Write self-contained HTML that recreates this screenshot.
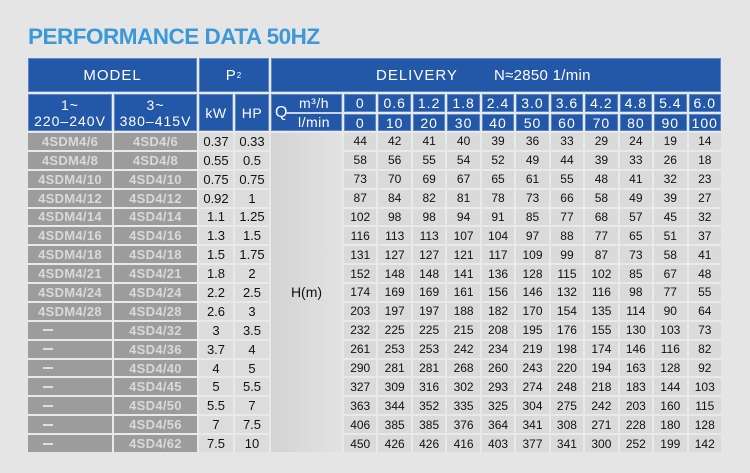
<!DOCTYPE html>
<html><head><meta charset="utf-8"><style>
html,body{margin:0;padding:0}
body{width:750px;height:473px;background:#e5e5e5;position:relative;overflow:hidden;font-family:"Liberation Sans",Arial,sans-serif}
.title{position:absolute;left:28px;top:25px;font-size:22.5px;line-height:23px;font-weight:bold;color:#3b99d9;letter-spacing:-0.5px;white-space:nowrap}
.g{position:absolute;left:28px;top:58px;width:693px;height:394px;display:grid;
grid-template-columns:84px 83px 34px 34px 71px repeat(11,1fr);
grid-template-rows:34px 18px 17px repeat(17,1fr);gap:2px;background:#e8e9ea}
.g>div{display:flex;align-items:center;justify-content:center;white-space:nowrap;overflow:visible}
.h{background:#2357a8;color:#fff;box-shadow:inset 0 0 0 1px #5e86c8;font-size:14px;letter-spacing:1px}
.h1{font-size:15px}
.m{background:#9c9c9c;color:#d9d9d9;font-weight:bold;font-size:13px;letter-spacing:0.3px}
.d{justify-content:flex-start!important;padding-left:15px}
.d span{display:block;width:10px;height:2px;background:#dedede}
.p{background:#dcdcdc;color:#111;font-size:13px}
.n{background:#dadada;color:#111;font-size:12px}
.hm{background:linear-gradient(to right,#d3d3d3,#dcdcdc 60%,#e2e2e2);color:#111;font-size:14px}
.q{position:relative;display:block!important}
.q .Q{position:absolute;left:4px;top:0;height:37px;line-height:37px;font-size:16px;letter-spacing:0}
.q .a{position:absolute;left:15px;width:56px;top:0;height:18px;line-height:18px;text-align:center;font-size:14px;letter-spacing:0.5px}
.q .b{position:absolute;left:15px;width:56px;top:20px;height:17px;line-height:17px;text-align:center;font-size:14px;letter-spacing:0.5px}
.q .ln{position:absolute;left:15px;right:0;top:18px;height:2px;background:#c9d3e3}
.v{flex-direction:column;line-height:16px}
</style></head><body>
<div class="title">PERFORMANCE DATA 50HZ</div>
<div class="g">
<div class="h h1" style="grid-column:1/span 2;grid-row:1">MODEL</div>
<div class="h h1" style="grid-column:3/span 2;grid-row:1">P<sub style="font-size:8px;vertical-align:-3px">2</sub></div>
<div class="h h1" style="grid-column:5/span 12;grid-row:1;justify-content:flex-start;padding-left:105px">DELIVERY<span style="margin-left:36px;letter-spacing:0.3px">N≈2850 1/min</span></div>
<div class="h v" style="grid-column:1;grid-row:2/span 2"><span>1~</span><span>220–240V</span></div>
<div class="h v" style="grid-column:2;grid-row:2/span 2"><span>3~</span><span>380–415V</span></div>
<div class="h" style="grid-column:3;grid-row:2/span 2;letter-spacing:0.5px">kW</div>
<div class="h" style="grid-column:4;grid-row:2/span 2;letter-spacing:0.5px">HP</div>
<div class="h q" style="grid-column:5;grid-row:2/span 2"><span class="Q">Q</span><span class="ln"></span><span class="a">m³/h</span><span class="b">l/min</span></div>
<div class="h">0</div><div class="h">0.6</div><div class="h">1.2</div><div class="h">1.8</div><div class="h">2.4</div><div class="h">3.0</div><div class="h">3.6</div><div class="h">4.2</div><div class="h">4.8</div><div class="h">5.4</div><div class="h">6.0</div>
<div class="h">0</div><div class="h">10</div><div class="h">20</div><div class="h">30</div><div class="h">40</div><div class="h">50</div><div class="h">60</div><div class="h">70</div><div class="h">80</div><div class="h">90</div><div class="h">100</div>

<div class="m">4SDM4/6</div><div class="m">4SD4/6</div><div class="p">0.37</div><div class="p">0.33</div>
<div class="hm" style="grid-column:5;grid-row:4/span 17">H(m)</div>
<div class="n">44</div><div class="n">42</div><div class="n">41</div><div class="n">40</div><div class="n">39</div><div class="n">36</div><div class="n">33</div><div class="n">29</div><div class="n">24</div><div class="n">19</div><div class="n">14</div>

<div class="m">4SDM4/8</div><div class="m">4SD4/8</div><div class="p">0.55</div><div class="p">0.5</div>
<div class="n">58</div><div class="n">56</div><div class="n">55</div><div class="n">54</div><div class="n">52</div><div class="n">49</div><div class="n">44</div><div class="n">39</div><div class="n">33</div><div class="n">26</div><div class="n">18</div>

<div class="m">4SDM4/10</div><div class="m">4SD4/10</div><div class="p">0.75</div><div class="p">0.75</div>
<div class="n">73</div><div class="n">70</div><div class="n">69</div><div class="n">67</div><div class="n">65</div><div class="n">61</div><div class="n">55</div><div class="n">48</div><div class="n">41</div><div class="n">32</div><div class="n">23</div>

<div class="m">4SDM4/12</div><div class="m">4SD4/12</div><div class="p">0.92</div><div class="p">1</div>
<div class="n">87</div><div class="n">84</div><div class="n">82</div><div class="n">81</div><div class="n">78</div><div class="n">73</div><div class="n">66</div><div class="n">58</div><div class="n">49</div><div class="n">39</div><div class="n">27</div>

<div class="m">4SDM4/14</div><div class="m">4SD4/14</div><div class="p">1.1</div><div class="p">1.25</div>
<div class="n">102</div><div class="n">98</div><div class="n">98</div><div class="n">94</div><div class="n">91</div><div class="n">85</div><div class="n">77</div><div class="n">68</div><div class="n">57</div><div class="n">45</div><div class="n">32</div>

<div class="m">4SDM4/16</div><div class="m">4SD4/16</div><div class="p">1.3</div><div class="p">1.5</div>
<div class="n">116</div><div class="n">113</div><div class="n">113</div><div class="n">107</div><div class="n">104</div><div class="n">97</div><div class="n">88</div><div class="n">77</div><div class="n">65</div><div class="n">51</div><div class="n">37</div>

<div class="m">4SDM4/18</div><div class="m">4SD4/18</div><div class="p">1.5</div><div class="p">1.75</div>
<div class="n">131</div><div class="n">127</div><div class="n">127</div><div class="n">121</div><div class="n">117</div><div class="n">109</div><div class="n">99</div><div class="n">87</div><div class="n">73</div><div class="n">58</div><div class="n">41</div>

<div class="m">4SDM4/21</div><div class="m">4SD4/21</div><div class="p">1.8</div><div class="p">2</div>
<div class="n">152</div><div class="n">148</div><div class="n">148</div><div class="n">141</div><div class="n">136</div><div class="n">128</div><div class="n">115</div><div class="n">102</div><div class="n">85</div><div class="n">67</div><div class="n">48</div>

<div class="m">4SDM4/24</div><div class="m">4SD4/24</div><div class="p">2.2</div><div class="p">2.5</div>
<div class="n">174</div><div class="n">169</div><div class="n">169</div><div class="n">161</div><div class="n">156</div><div class="n">146</div><div class="n">132</div><div class="n">116</div><div class="n">98</div><div class="n">77</div><div class="n">55</div>

<div class="m">4SDM4/28</div><div class="m">4SD4/28</div><div class="p">2.6</div><div class="p">3</div>
<div class="n">203</div><div class="n">197</div><div class="n">197</div><div class="n">188</div><div class="n">182</div><div class="n">170</div><div class="n">154</div><div class="n">135</div><div class="n">114</div><div class="n">90</div><div class="n">64</div>

<div class="m d"><span></span></div><div class="m">4SD4/32</div><div class="p">3</div><div class="p">3.5</div>
<div class="n">232</div><div class="n">225</div><div class="n">225</div><div class="n">215</div><div class="n">208</div><div class="n">195</div><div class="n">176</div><div class="n">155</div><div class="n">130</div><div class="n">103</div><div class="n">73</div>

<div class="m d"><span></span></div><div class="m">4SD4/36</div><div class="p">3.7</div><div class="p">4</div>
<div class="n">261</div><div class="n">253</div><div class="n">253</div><div class="n">242</div><div class="n">234</div><div class="n">219</div><div class="n">198</div><div class="n">174</div><div class="n">146</div><div class="n">116</div><div class="n">82</div>

<div class="m d"><span></span></div><div class="m">4SD4/40</div><div class="p">4</div><div class="p">5</div>
<div class="n">290</div><div class="n">281</div><div class="n">281</div><div class="n">268</div><div class="n">260</div><div class="n">243</div><div class="n">220</div><div class="n">194</div><div class="n">163</div><div class="n">128</div><div class="n">92</div>

<div class="m d"><span></span></div><div class="m">4SD4/45</div><div class="p">5</div><div class="p">5.5</div>
<div class="n">327</div><div class="n">309</div><div class="n">316</div><div class="n">302</div><div class="n">293</div><div class="n">274</div><div class="n">248</div><div class="n">218</div><div class="n">183</div><div class="n">144</div><div class="n">103</div>

<div class="m d"><span></span></div><div class="m">4SD4/50</div><div class="p">5.5</div><div class="p">7</div>
<div class="n">363</div><div class="n">344</div><div class="n">352</div><div class="n">335</div><div class="n">325</div><div class="n">304</div><div class="n">275</div><div class="n">242</div><div class="n">203</div><div class="n">160</div><div class="n">115</div>

<div class="m d"><span></span></div><div class="m">4SD4/56</div><div class="p">7</div><div class="p">7.5</div>
<div class="n">406</div><div class="n">385</div><div class="n">385</div><div class="n">376</div><div class="n">364</div><div class="n">341</div><div class="n">308</div><div class="n">271</div><div class="n">228</div><div class="n">180</div><div class="n">128</div>

<div class="m d"><span></span></div><div class="m">4SD4/62</div><div class="p">7.5</div><div class="p">10</div>
<div class="n">450</div><div class="n">426</div><div class="n">426</div><div class="n">416</div><div class="n">403</div><div class="n">377</div><div class="n">341</div><div class="n">300</div><div class="n">252</div><div class="n">199</div><div class="n">142</div>
</div>
</body></html>
